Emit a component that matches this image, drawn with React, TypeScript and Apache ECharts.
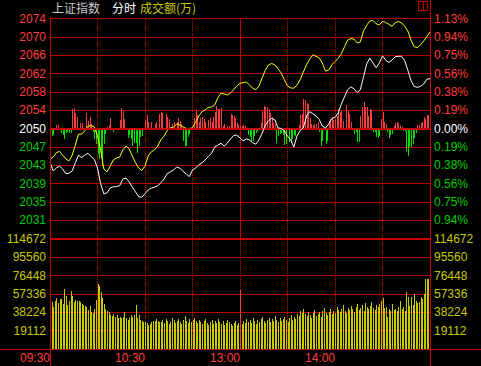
import React, { useEffect, useRef } from 'react';
import * as echarts from 'echarts';

// ---------- data ----------
const PREV_CLOSE = 2050.45;
const PCT_STEP = 0.1875;
const VOL_STEP = 19112;

const leftPriceLabels = ['', '2031', '2035', '2039', '2043', '2047', '2050', '2054', '2058', '2062', '2066', '2070', '2074'];
const rightPctLabels = ['', '0.94%', '0.75%', '0.56%', '0.38%', '0.19%', '0.00%', '0.19%', '0.38%', '0.56%', '0.75%', '0.94%', '1.13%'];
const volLabels = ['', '19112', '38224', '57336', '76448', '95560', '114672'];
const timeTicks = [0, 60, 120, 180];
const timeTickLabels = ['09:30', '10:30', '13:00', '14:00'];
const halfHourLines = [30, 60, 90, 120, 150, 180, 210];
const LUNCH_MINUTE = 120;

// index (white) sampled every 2 minutes from 09:30
const indexLine = [
  2043.5, 2041.6, 2042.2, 2042.6, 2042.0, 2041.0, 2041.1, 2041.6, 2043.3, 2044.9,
  2044.4, 2044.9, 2045.3, 2044.6, 2044.0, 2042.2, 2038.9, 2036.8, 2037.0, 2038.0,
  2038.3, 2038.3, 2038.5, 2039.9, 2040.1, 2039.3, 2038.2, 2037.2, 2036.2, 2036.1,
  2036.8, 2037.6, 2038.0, 2038.2, 2038.5, 2039.1, 2039.9, 2041.0, 2041.4, 2041.8,
  2042.4, 2042.2, 2041.5, 2041.0, 2040.4, 2041.8, 2042.2, 2042.9, 2043.3, 2043.9,
  2044.6, 2045.3, 2046.6, 2047.0, 2047.4, 2046.8, 2047.4, 2048.3, 2049.0, 2049.1,
  2048.5, 2047.9, 2048.3, 2048.1, 2047.5, 2047.2, 2048.1, 2049.5, 2051.2, 2052.1,
  2052.6, 2052.3, 2050.6, 2050.5, 2050.0, 2048.9, 2048.1, 2046.6, 2048.9, 2050.1,
  2050.6, 2053.1, 2054.0, 2053.6, 2053.1, 2052.4, 2051.0, 2050.6, 2051.4, 2052.6,
  2052.8, 2053.7, 2055.6, 2057.1, 2058.6, 2059.2, 2058.8, 2058.0, 2058.6, 2061.3,
  2064.0, 2065.2, 2064.2, 2063.2, 2064.2, 2065.7, 2064.8, 2064.3, 2064.8, 2065.5,
  2065.6, 2065.6, 2064.7, 2062.7, 2060.5, 2059.3, 2059.1, 2059.3, 2059.8, 2060.8,
  2060.9,
];

// unweighted index (yellow) sampled every 2 minutes
const leadLine = [
  2044.1, 2044.5, 2045.4, 2045.7, 2044.9, 2044.1, 2043.7, 2044.9, 2047.0, 2049.3,
  2049.3, 2050.0, 2051.0, 2051.1, 2050.8, 2048.9, 2046.0, 2042.0, 2041.4, 2042.6,
  2043.9, 2044.3, 2044.5, 2046.0, 2046.8, 2046.2, 2044.7, 2043.3, 2042.2, 2041.7,
  2042.6, 2044.7, 2045.6, 2046.0, 2046.8, 2048.1, 2048.9, 2050.0, 2050.6, 2050.8,
  2051.4, 2051.2, 2050.8, 2050.5, 2050.5, 2050.6, 2051.9, 2053.1, 2054.0, 2054.4,
  2054.9, 2055.0, 2055.4, 2056.9, 2057.9, 2057.7, 2057.5, 2057.9, 2058.6, 2059.4,
  2059.9, 2060.1, 2060.2, 2059.6, 2058.9, 2058.6, 2059.4, 2061.1, 2062.7, 2063.8,
  2064.1, 2063.8, 2063.0, 2062.1, 2060.7, 2059.4, 2059.0, 2058.9, 2059.6, 2060.7,
  2062.3, 2063.8, 2065.0, 2065.9, 2065.6, 2065.3, 2064.2, 2062.5, 2062.7, 2063.8,
  2064.5, 2065.2, 2066.1, 2067.6, 2069.0, 2069.3, 2069.2, 2068.4, 2068.6, 2070.9,
  2072.1, 2073.0, 2073.1, 2072.4, 2072.2, 2072.9, 2072.7, 2072.3, 2071.9, 2072.6,
  2072.9, 2072.6, 2071.9, 2070.9, 2069.0, 2067.6, 2067.4, 2068.0, 2068.8, 2069.7,
  2070.7,
];

// buy/sell strength bars: [minute, strength] (positive red, negative green)
const strengthBars = [
  [0, -25], [1, -7], [2, -6], [4, 4], [5, 4], [7, -4], [8, -6], [9, -10], [10, -4], [11, -3], [12, -4], [13, -4],
  [14, 20], [15, 21], [16, 16], [17, 12], [19, 6], [20, 6], [23, 16], [24, 8], [25, 12], [26, 5],
  [27, -3], [28, -10], [29, -15], [30, -25], [31, -30], [32, -29], [33, -37], [34, -15], [35, -5],
  [36, 2], [37, 4], [38, 11], [40, -3], [44, 9], [45, 21], [46, 18], [47, 10],
  [49, -9], [50, -6], [51, -10], [52, -17], [53, -14], [54, -14], [55, -24], [56, -17], [57, -8], [58, -7],
  [60, 9], [61, 14], [62, 7], [64, 7], [66, 5], [67, 7], [69, 15], [70, 17], [71, 16], [73, 15], [74, 12], [75, 10],
  [77, 5], [78, 7], [80, 7], [81, 11], [82, 8], [83, 5], [84, -12], [85, -17], [86, -17], [87, -8], [88, -5],
  [91, 11], [92, 19], [93, 14], [94, 7], [95, 11], [96, 12], [97, 10], [98, 7], [100, 9], [101, 11], [102, 7],
  [103, 12], [104, 17], [105, 23], [106, 20], [107, 20], [108, 21], [109, 3], [110, 5], [112, 3], [113, 3],
  [114, 15], [115, 14], [116, 13], [117, 11], [118, 6], [119, 4], [120, 3], [121, 3], [122, 4], [123, 3],
  [125, -6], [126, -8], [127, -12], [128, -12], [129, -7], [130, -4], [131, -2],
  [133, 6], [134, 18], [135, 23], [136, 22], [137, 22], [138, 20], [139, 16], [140, 12], [141, 6], [142, 5],
  [143, -14], [144, -7], [145, -5], [146, -4], [147, -6], [148, -16], [149, -15], [151, -13], [152, -14], [153, -10], [154, -6], [155, -7],
  [157, 4], [158, 14], [159, 15], [160, 30], [161, 29], [162, 26], [163, 25], [164, 11], [165, 5], [166, 4], [167, 5], [168, 5], [169, 7],
  [170, -3], [171, -17], [172, -12], [174, -15], [175, -12],
  [176, 8], [177, 10], [178, 12], [179, 9], [180, 10], [181, 13], [182, 20], [183, 17], [184, 18], [185, 8], [187, 24], [188, 18], [189, 15], [190, 7],
  [192, -5], [193, -3], [194, -13], [195, -13],
  [196, 13], [197, 22], [198, 27], [199, 22], [200, 22], [201, 13], [202, 20], [203, 19],
  [204, -3], [205, -3], [206, -8], [207, -9], [208, -7],
  [209, 10], [210, 17], [211, 7], [212, 5], [213, -3], [214, -9], [215, -6], [216, -5],
  [217, 3], [218, 6], [219, 7], [220, 6], [221, 3], [222, 2], [223, -2], [224, -2],
  [225, -22], [226, -27], [227, -18], [228, -18], [229, -15], [230, -9], [231, -4],
  [232, 4], [233, 4], [234, 6], [235, 7], [236, 12], [237, 10], [238, 14], [239, 14],
];

// turnover per minute (万), 09:30 .. 15:00
const turnover = [
  105000, 49000, 43800, 50000, 53200, 48000, 52100, 52100, 46900, 62600,
  55300, 45900, 50000, 60500, 55300, 49000, 51100, 50000, 50000, 49000,
  46900, 45900, 44800, 43800, 40700, 44800, 38600, 37500, 41700, 51100,
  67800, 65700, 59400, 53200, 46900, 41700, 39600, 38600, 35400, 34400,
  36500, 33400, 35400, 32300, 33400, 32300, 33400, 38600, 32300, 30200,
  32300, 35400, 33400, 35400, 45900, 32300, 35400, 30200, 29200, 28200,
  28200, 27100, 25000, 26100, 28200, 29200, 29200, 31300, 29200, 28200,
  28200, 30200, 27100, 31300, 29200, 26100, 28200, 32300, 30200, 27100,
  29200, 31300, 28200, 26100, 30200, 34400, 29200, 27100, 31300, 28200, 30200,
  32300, 29200, 27100, 30200, 28200, 26100, 29200, 31300, 27100, 25000,
  28200, 30200, 26100, 29200, 27100, 31300, 28200, 26100, 29200, 25000,
  27100, 30200, 28200, 26100, 24000, 27100, 29200, 25000, 27100,
  61500,
  26100, 29200, 27100, 31300, 28200, 30200, 27100, 32300, 29200, 26100,
  30200, 28200, 31300, 33400, 29200, 27100, 30200, 32300, 28200, 31300,
  29200, 34400, 30200, 28200, 32300, 29200, 31300, 33400, 30200, 28200,
  32300, 35400, 30200, 33400, 31300, 36500, 34400, 39600, 37500, 41700,
  36500, 34400, 38600, 35400, 32300, 37500, 40700, 34400, 36500, 38600,
  33400, 39600, 42700, 37500, 35400, 38600, 41700, 36500, 39600, 37500,
  43800, 40700, 38600, 41700, 45900, 39600, 37500, 42700, 40700, 44800,
  41700, 38600, 43800, 46900, 40700, 42700, 45900, 39600, 48000, 43800,
  41700, 44800, 49000, 42700, 40700, 45900, 43800, 46900, 50000, 53200,
  42700, 43800, 33400, 41700, 39600, 46900, 40700, 41700, 39600, 43800,
  50000, 41700, 43800, 39600, 59400, 54200, 44800, 54200, 45900, 57300,
  50000, 48000, 49000, 54200, 52100, 57300, 73000, 73000, 73000, 63600,
];

// ---------- colours ----------
const BG = '#000000';
const GRID = '#b40000';
const GRID_BOLD = '#c80000';
const DOT = '#d00000';
const RED_TXT = '#ff3c3c';
const GREEN_TXT = '#00cc00';
const RED_BAR = '#ff3c3c';
const GREEN_BAR = '#00e000';
const VOL_YELLOW = '#c8c800';
const FONT = '"Liberation Sans", Arial, sans-serif';
const CJK = '"Noto Sans CJK SC", sans-serif';

const toPct = (v: number) => ((v - PREV_CLOSE) / PREV_CLOSE) * 100;
const pctIndex = (v: number) => Math.round((v + 6 * PCT_STEP) / PCT_STEP);

export default function App() {
  const ref = useRef<HTMLDivElement>(null);

  useEffect(() => {
    document.body.style.margin = '0';
    document.body.style.background = BG;
    const chart = echarts.init(ref.current!, null, { renderer: 'svg' });

    const whiteData = indexLine.map((v, i) => [i * 2, toPct(v)]);
    const yellowData = leadLine.map((v, i) => [i * 2, toPct(v)]);
    const volData = turnover.map((v, i) => [i, v]);

    const barItem = (colorFn: (x: number, v: number) => string) => (params: any, api: any) => {
      const x = api.value(0);
      const v = api.value(1);
      const p = api.coord([x, v]);
      const b = api.coord([x, 0]);
      const top = Math.round(Math.min(p[1], b[1]));
      const bot = Math.round(Math.max(p[1], b[1]));
      return {
        type: 'rect',
        shape: { x: Math.round(p[0]), y: top, width: 1, height: Math.max(1, bot - top) },
        style: { fill: colorFn(x, v) },
      };
    };

    const option: any = {
      animation: false,
      backgroundColor: BG,
      grid: [
        { left: 50, top: 18.5, width: 380, height: 220.3 },
        { left: 50, top: 238.8, width: 380, height: 110.2 },
      ],
      xAxis: [
        {
          type: 'value', gridIndex: 0, min: 0, max: 240, interval: 30,
          axisLine: { show: false }, axisTick: { show: false }, axisLabel: { show: false }, splitLine: { show: false },
        },
        {
          type: 'value', gridIndex: 1, min: 0, max: 240, interval: 60,
          axisLine: { show: false }, axisTick: { show: false }, splitLine: { show: false },
          axisLabel: {
            show: true, showMinLabel: true, showMaxLabel: true, align: 'right', margin: 3,
            color: RED_TXT, fontSize: 12, fontFamily: FONT,
            formatter: (v: number) => {
              const i = timeTicks.indexOf(Math.round(v));
              return i >= 0 ? timeTickLabels[i] : '';
            },
          },
        },
      ],
      yAxis: [
        {
          type: 'value', gridIndex: 0, position: 'left', min: -6 * PCT_STEP, max: 6 * PCT_STEP, interval: PCT_STEP,
          axisLine: { show: false }, axisTick: { show: false },
          splitLine: { show: true, lineStyle: { color: GRID, width: 1 } },
          axisLabel: {
            showMinLabel: true, showMaxLabel: true, margin: 4, fontSize: 12, fontFamily: FONT,
            formatter: (v: number) => leftPriceLabels[pctIndex(v)] || '',
            color: (v: any) => {
              const i = pctIndex(Number(v));
              return i > 6 ? RED_TXT : i === 6 ? '#ffffff' : GREEN_TXT;
            },
          },
        },
        {
          type: 'value', gridIndex: 0, position: 'right', min: -6 * PCT_STEP, max: 6 * PCT_STEP, interval: PCT_STEP,
          axisLine: { show: false }, axisTick: { show: false }, splitLine: { show: false },
          axisLabel: {
            showMinLabel: true, showMaxLabel: true, margin: 4, fontSize: 12, fontFamily: FONT,
            formatter: (v: number) => rightPctLabels[pctIndex(v)] || '',
            color: (v: any) => {
              const i = pctIndex(Number(v));
              return i > 6 ? RED_TXT : i === 6 ? '#ffffff' : GREEN_TXT;
            },
          },
        },
        {
          type: 'value', gridIndex: 1, position: 'left', min: 0, max: 6 * VOL_STEP, interval: VOL_STEP,
          axisLine: { show: false }, axisTick: { show: false },
          splitLine: { show: true, lineStyle: { color: GRID, width: 1 } },
          axisLabel: {
            showMinLabel: true, showMaxLabel: true, margin: 4, fontSize: 12, fontFamily: FONT, color: VOL_YELLOW,
            formatter: (v: number) => volLabels[Math.round(v / VOL_STEP)] || '',
          },
        },
        {
          type: 'value', gridIndex: 1, position: 'right', min: 0, max: 6 * VOL_STEP, interval: VOL_STEP,
          axisLine: { show: false }, axisTick: { show: false }, splitLine: { show: false },
          axisLabel: {
            showMinLabel: true, showMaxLabel: true, margin: 4, fontSize: 12, fontFamily: FONT, color: VOL_YELLOW,
            formatter: (v: number) => volLabels[Math.round(v / VOL_STEP)] || '',
          },
        },
        {
          type: 'value', gridIndex: 0, show: false, min: -110.15, max: 110.15,
          splitLine: { show: false },
        },
      ],
      series: [
        {
          type: 'line', xAxisIndex: 0, yAxisIndex: 0, data: [], z: 1, silent: true,
          markLine: {
            silent: true, symbol: 'none', label: { show: false },
            data: [{ yAxis: 0, lineStyle: { color: GRID_BOLD, width: 2, type: 'solid' } }],
          },
        },
        {
          type: 'line', xAxisIndex: 1, yAxisIndex: 2, data: [], z: 1, silent: true,
          markLine: {
            silent: true, symbol: 'none', label: { show: false },
            data: [{ yAxis: 6 * VOL_STEP, lineStyle: { color: GRID_BOLD, width: 2, type: 'solid' } }],
          },
        },
        {
          type: 'custom', xAxisIndex: 0, yAxisIndex: 4, data: strengthBars, z: 2, silent: true,
          encode: { x: 0, y: 1 },
          renderItem: barItem((x, v) => (v >= 0 ? RED_BAR : GREEN_BAR)),
        },
        {
          type: 'custom', xAxisIndex: 1, yAxisIndex: 2, data: volData, z: 2, silent: true,
          encode: { x: 0, y: 1 },
          renderItem: barItem((x) => (x === LUNCH_MINUTE ? RED_BAR : VOL_YELLOW)),
        },
        {
          type: 'line', xAxisIndex: 0, yAxisIndex: 0, data: yellowData, symbol: 'none', z: 4,
          lineStyle: { color: '#ffff00', width: 1 },
        },
        {
          type: 'line', xAxisIndex: 0, yAxisIndex: 0, data: whiteData, symbol: 'none', z: 5,
          lineStyle: { color: '#ffffff', width: 1 },
        },
      ],
      graphic: [
        { id: 'bl', type: 'line', shape: { x1: 50.5, y1: 18, x2: 50.5, y2: 366 }, style: { stroke: GRID_BOLD, lineWidth: 1 }, z: 10 },
        { id: 'br', type: 'line', shape: { x1: 430.5, y1: 0, x2: 430.5, y2: 366 }, style: { stroke: GRID_BOLD, lineWidth: 1 }, z: 10 },
        { id: 'bb', type: 'line', shape: { x1: 0, y1: 349.5, x2: 481, y2: 349.5 }, style: { stroke: GRID_BOLD, lineWidth: 1 }, z: 10 },
        { id: 'box', type: 'rect', shape: { x: 418.5, y: 1.5, width: 9, height: 9 }, style: { stroke: GRID_BOLD, fill: 'none', lineWidth: 1 }, z: 10 },
        { id: 'boxd', type: 'line', shape: { x1: 423.5, y1: 1.5, x2: 423.5, y2: 10.5 }, style: { stroke: GRID_BOLD, lineWidth: 1 }, z: 10 },
        { id: 't1', type: 'text', x: 52, y: 1, style: { text: '上证指数', fill: '#c8c8c8', font: `12px ${CJK}`, verticalAlign: 'top', textVerticalAlign: 'top' }, z: 10 },
        { id: 't2', type: 'text', x: 112, y: 1, style: { text: '分时', fill: '#ffffff', font: `12px ${CJK}`, verticalAlign: 'top', textVerticalAlign: 'top' }, z: 10 },
        { id: 't3', type: 'text', x: 140, y: 1, style: { text: '成交额(万)', fill: VOL_YELLOW, font: `12px ${CJK}`, verticalAlign: 'top', textVerticalAlign: 'top' }, z: 10 },
      ],
    };

    chart.setOption(option);

    // crisp half-hour grid lines placed through the axis scale
    const priceTop = chart.convertToPixel({ yAxisIndex: 0 }, 6 * PCT_STEP) as number;
    const priceBot = chart.convertToPixel({ yAxisIndex: 0 }, -6 * PCT_STEP) as number;
    const volTop = chart.convertToPixel({ yAxisIndex: 2 }, 6 * VOL_STEP) as number;
    const volBot = chart.convertToPixel({ yAxisIndex: 2 }, 0) as number;
    const extra: any[] = [];
    halfHourLines.forEach((m) => {
      const px = Math.floor(chart.convertToPixel({ xAxisIndex: 0 }, m) as number) + 0.5;
      const solid = m === LUNCH_MINUTE;
      extra.push({
        id: `vp${m}`, type: 'line', z: 1, silent: true,
        shape: { x1: px, y1: Math.round(priceTop), x2: px, y2: Math.round(priceBot) },
        style: { stroke: solid ? GRID_BOLD : DOT, lineWidth: 1, lineDash: solid ? null : [1, 1] },
      });
      extra.push({
        id: `vv${m}`, type: 'line', z: 1, silent: true,
        shape: { x1: px, y1: Math.round(volTop), x2: px, y2: Math.round(volBot) },
        style: { stroke: DOT, lineWidth: 1, lineDash: [1, 1] },
      });
    });
    chart.setOption({ graphic: extra });

    return () => chart.dispose();
  }, []);

  return (
    <div
      ref={ref}
      style={{ position: 'fixed', left: 0, top: 0, width: 481, height: 366, background: BG }}
    />
  );
}
